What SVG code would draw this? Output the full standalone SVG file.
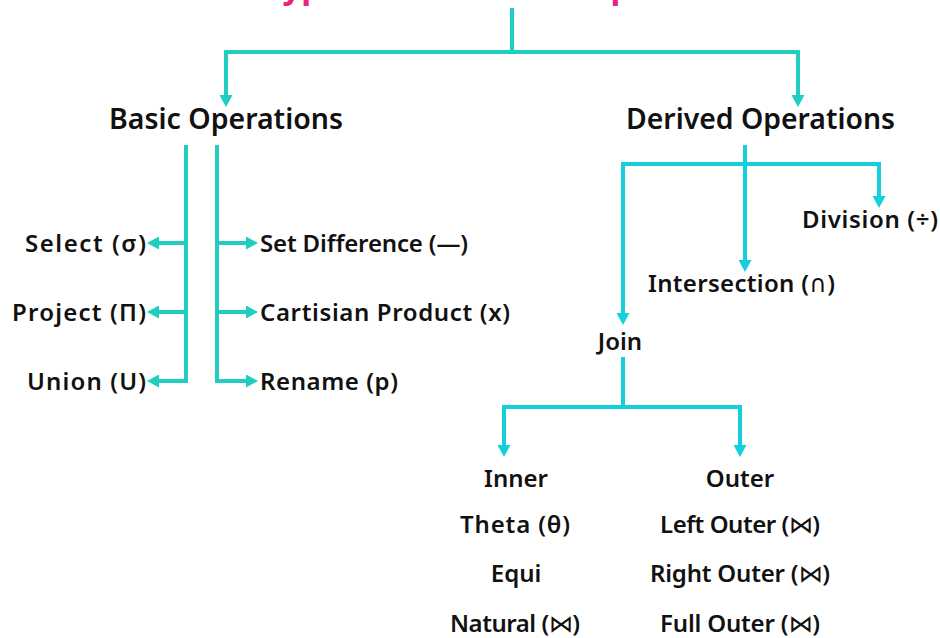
<svg xmlns="http://www.w3.org/2000/svg" width="940" height="638" viewBox="0 0 940 638">
  <style>
    text { font-family: "Noto Sans", "Open Sans", "DejaVu Sans", sans-serif; font-weight: 600; fill: #111; }
    .title { font-size: 33px; font-weight: 700; fill: #e8247c; }
    .head { font-size: 28.5px; }
    .item { font-size: 24px; }
    .sym { font-family: "DejaVu Sans", sans-serif; font-weight: 400; }
    .teal { fill: none; stroke: #20cdbf; stroke-width: 4; }
    .cyan { fill: none; stroke: #14cfdc; stroke-width: 4; }
  </style>
  <defs>
    <marker id="arrT" viewBox="0 0 12 13" markerWidth="12" markerHeight="13" refX="4" refY="6.5" orient="auto" markerUnits="userSpaceOnUse">
      <path d="M0,0 L12,6.5 L0,13 z" fill="#20cdbf"/>
    </marker>
    <marker id="arrC" viewBox="0 0 12 13" markerWidth="12" markerHeight="13" refX="4" refY="6.5" orient="auto" markerUnits="userSpaceOnUse">
      <path d="M0,0 L12,6.5 L0,13 z" fill="#14cfdc"/>
    </marker>
  </defs>

  <!-- heading, sitting mostly above the top edge -->
  <g id="title">
    <text class="title" x="264" y="-2">Types of Relational Operations</text>
  </g>

  <g id="connectors">
    <!-- root split -->
    <path class="teal" d="M512,8 V52"/>
    <path class="teal" d="M514,52 H226 V99" marker-end="url(#arrT)"/>
    <path class="teal" d="M510,52 H798 V99" marker-end="url(#arrT)"/>
    <!-- basic operations, left rail -->
    <path class="teal" d="M186,145 V381 H155" marker-end="url(#arrT)"/>
    <path class="teal" d="M186,243 H155" marker-end="url(#arrT)"/>
    <path class="teal" d="M186,312 H155" marker-end="url(#arrT)"/>
    <!-- basic operations, right rail -->
    <path class="teal" d="M217,145 V381 H250" marker-end="url(#arrT)"/>
    <path class="teal" d="M217,243 H250" marker-end="url(#arrT)"/>
    <path class="teal" d="M217,312 H250" marker-end="url(#arrT)"/>
    <!-- derived operations -->
    <path class="cyan" d="M745,145 V264" marker-end="url(#arrC)"/>
    <path class="cyan" d="M747,164 H623 V317" marker-end="url(#arrC)"/>
    <path class="cyan" d="M743,164 H879 V200" marker-end="url(#arrC)"/>
    <!-- join split -->
    <path class="cyan" d="M623,357 V407"/>
    <path class="cyan" d="M625,407 H504 V449" marker-end="url(#arrC)"/>
    <path class="cyan" d="M621,407 H740 V449" marker-end="url(#arrC)"/>
  </g>

  <g id="basic"><text class="head" x="109" y="129" textLength="234" lengthAdjust="spacingAndGlyphs">Basic Operations</text></g>
  <g id="derived"><text class="head" x="626" y="129" textLength="269" lengthAdjust="spacingAndGlyphs">Derived Operations</text></g>

  <g id="select"><text class="item" x="25" y="252" textLength="121">Select (σ)</text></g>
  <g id="project"><text class="item" x="12" y="321" textLength="134">Project (Π)</text></g>
  <g id="union"><text class="item" x="27" y="390" textLength="119">Union (U)</text></g>

  <g id="difference"><text class="item" x="260" y="252" textLength="208">Set Difference (—)</text></g>
  <g id="product"><text class="item" x="260" y="321" textLength="250">Cartisian Product (x)</text></g>
  <g id="rename"><text class="item" x="260" y="390" textLength="138">Rename (p)</text></g>

  <g id="division"><text class="item" x="802" y="228" textLength="136">Division (÷)</text></g>
  <g id="intersection"><text class="item" x="648" y="292" textLength="187">Intersection (<tspan class="sym">∩</tspan>)</text></g>
  <g id="join"><text class="item" x="620" y="350" text-anchor="middle">Join</text></g>

  <g id="inner">
    <text class="item" x="516" y="487" text-anchor="middle">Inner</text>
    <text class="item" x="460" y="533" textLength="110">Theta (θ)</text>
    <text class="item" x="516" y="582" text-anchor="middle">Equi</text>
    <text class="item" x="450" y="632" textLength="130">Natural (<tspan class="sym">⋈</tspan>)</text>
  </g>
  <g id="outer">
    <text class="item" x="740" y="487" text-anchor="middle">Outer</text>
    <text class="item" x="660" y="533" textLength="160">Left Outer (<tspan class="sym">⋈</tspan>)</text>
    <text class="item" x="650" y="582" textLength="180">Right Outer (<tspan class="sym">⋈</tspan>)</text>
    <text class="item" x="660" y="632" textLength="160">Full Outer (<tspan class="sym">⋈</tspan>)</text>
  </g>
</svg>
